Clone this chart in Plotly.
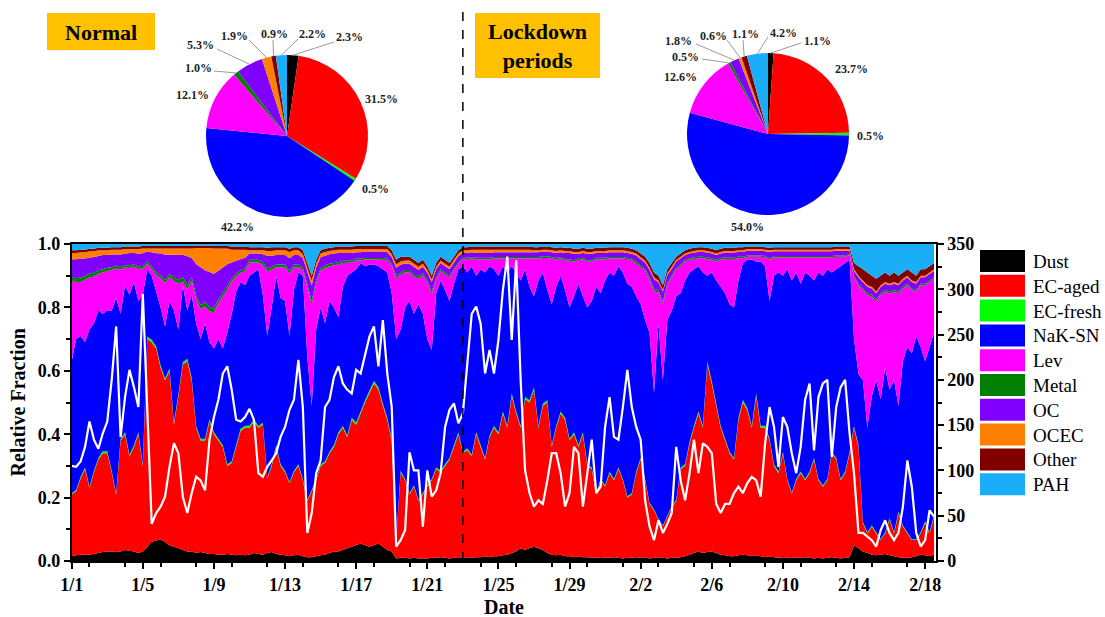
import math
import pandas as pd
import plotly.graph_objects as go

W, H = 1105, 617
SERIF = "Liberation Serif, Times New Roman, serif"

species = ["Dust", "EC-aged", "EC-fresh", "NaK-SN", "Lev", "Metal", "OC", "OCEC", "Other", "PAH"]
colors = ["#000000", "#FF0000", "#00FF00", "#0000FF", "#FF00FF", "#007F00", "#8000FF", "#FF8000", "#800000", "#1AADF8"]

# pie charts: mean mass fractions (%)
pie_normal = [2.3, 31.5, 0.5, 42.2, 12.1, 1.0, 5.3, 1.9, 0.9, 2.2]
pie_lockdown = [1.1, 23.7, 0.5, 54.0, 12.6, 0.5, 1.8, 0.6, 1.1, 4.2]

# time series, 6-hourly from 2020-01-01 00:00
start = "2020-01-01"
lockdown_start = "2020-01-23"
x_end = "2020-02-18 14:40"

dust = [
    0.015, 0.018, 0.02, 0.02, 0.02, 0.022, 0.025, 0.028, 0.03, 0.03, 0.028, 0.03, 0.035, 0.032, 0.03, 0.025, 0.03, 0.045, 0.06, 0.065,
    0.068, 0.06, 0.05, 0.045, 0.04, 0.035, 0.03, 0.03, 0.025, 0.028, 0.025, 0.022, 0.022, 0.02, 0.02, 0.022, 0.02, 0.018, 0.02, 0.018,
    0.02, 0.025, 0.022, 0.02, 0.025, 0.028, 0.022, 0.02, 0.018, 0.015, 0.018, 0.02, 0.015, 0.012, 0.012, 0.015, 0.018, 0.02, 0.025, 0.03,
    0.03, 0.035, 0.04, 0.045, 0.05, 0.055, 0.05, 0.045, 0.05, 0.055, 0.045, 0.035, 0.03, 0.008, 0.01, 0.01, 0.008, 0.01, 0.008, 0.008,
    0.008, 0.01, 0.01, 0.012, 0.01, 0.008, 0.01, 0.012, 0.01, 0.012, 0.01, 0.012, 0.012, 0.015, 0.012, 0.015, 0.015, 0.018, 0.02, 0.025,
    0.03, 0.04, 0.035, 0.04, 0.045, 0.04, 0.035, 0.025, 0.02, 0.018, 0.02, 0.015, 0.015, 0.012, 0.015, 0.012,
    0.012, 0.01, 0.01, 0.012, 0.01, 0.01, 0.012, 0.01, 0.008, 0.01, 0.01, 0.012, 0.01, 0.012, 0.008, 0.01, 0.012, 0.01, 0.008, 0.01,
    0.01, 0.012, 0.015, 0.02, 0.025, 0.03, 0.025, 0.028, 0.03, 0.025, 0.02, 0.018, 0.015, 0.015, 0.018, 0.02, 0.018, 0.015, 0.018, 0.015,
    0.012, 0.015, 0.012, 0.01, 0.012, 0.01, 0.012, 0.01, 0.01, 0.012, 0.01, 0.008, 0.01, 0.008, 0.01, 0.012, 0.01, 0.008, 0.01, 0.012,
    0.05, 0.04, 0.03, 0.025, 0.02, 0.018, 0.02, 0.022, 0.018, 0.015, 0.012, 0.01, 0.01, 0.012, 0.015, 0.02, 0.018, 0.015, 0.02,
]
ec_aged = [
    0.195, 0.202, 0.24, 0.27, 0.21, 0.258, 0.295, 0.312, 0.31, 0.25, 0.182, 0.35, 0.365, 0.298, 0.33, 0.375, 0.27, 0.655, 0.63, 0.605,
    0.542, 0.51, 0.55, 0.385, 0.48, 0.585, 0.60, 0.54, 0.395, 0.352, 0.355, 0.418, 0.378, 0.36, 0.34, 0.278, 0.29, 0.342, 0.39, 0.402,
    0.40, 0.415, 0.398, 0.41, 0.235, 0.272, 0.338, 0.28, 0.262, 0.23, 0.262, 0.28, 0.24, 0.178, 0.208, 0.24, 0.282, 0.29, 0.315, 0.33,
    0.37, 0.385, 0.35, 0.40, 0.38, 0.41, 0.45, 0.485, 0.51, 0.485, 0.445, 0.41, 0.35, 0.058, 0.27, 0.245, 0.202, 0.225, 0.182, 0.202,
    0.227, 0.245, 0.28, 0.268, 0.29, 0.312, 0.35, 0.388, 0.33, 0.338, 0.32, 0.388, 0.348, 0.305, 0.378, 0.405, 0.385, 0.447, 0.40, 0.495,
    0.435, 0.38, 0.475, 0.46, 0.495, 0.38, 0.455, 0.475, 0.34, 0.402, 0.445, 0.43, 0.365, 0.388, 0.345, 0.388,
    0.288, 0.28, 0.20, 0.243, 0.225, 0.267, 0.243, 0.28, 0.247, 0.19, 0.20, 0.265, 0.31, 0.243, 0.172, 0.15, 0.118, 0.10, 0.132, 0.16,
    0.18, 0.278, 0.285, 0.35, 0.395, 0.435, 0.395, 0.592, 0.53, 0.465, 0.40, 0.362, 0.325, 0.305, 0.427, 0.48, 0.457, 0.405, 0.502, 0.405,
    0.408, 0.365, 0.288, 0.267, 0.328, 0.245, 0.20, 0.245, 0.267, 0.243, 0.267, 0.312, 0.245, 0.226, 0.245, 0.328, 0.31, 0.247, 0.267, 0.328,
    0.37, 0.32, 0.09, 0.062, 0.088, 0.069, 0.046, 0.065, 0.112, 0.072, 0.138, 0.098, 0.077, 0.054, 0.051, 0.067, 0.102, 0.072, 0.12,
]
ec_fresh = [
    0.004, 0.004, 0.005, 0.005, 0.005, 0.005, 0.005, 0.006, 0.006, 0.005, 0.004, 0.006, 0.006, 0.005, 0.005, 0.006, 0.005, 0.008, 0.008, 0.007,
    0.007, 0.006, 0.007, 0.006, 0.006, 0.008, 0.008, 0.007, 0.006, 0.006, 0.006, 0.007, 0.006, 0.006, 0.005, 0.005, 0.005, 0.006, 0.007, 0.007,
    0.007, 0.007, 0.006, 0.006, 0.004, 0.005, 0.006, 0.005, 0.005, 0.004, 0.005, 0.005, 0.004, 0.003, 0.004, 0.004, 0.005, 0.005, 0.005, 0.006,
    0.006, 0.006, 0.006, 0.007, 0.007, 0.007, 0.007, 0.008, 0.008, 0.008, 0.007, 0.007, 0.006, 0.002, 0.005, 0.004, 0.004, 0.004, 0.003, 0.004,
    0.004, 0.004, 0.005, 0.005, 0.005, 0.005, 0.006, 0.006, 0.005, 0.006, 0.005, 0.006, 0.006, 0.005, 0.006, 0.006, 0.006, 0.007, 0.006, 0.008,
    0.007, 0.006, 0.008, 0.007, 0.008, 0.006, 0.007, 0.007, 0.005, 0.006, 0.007, 0.007, 0.006, 0.006, 0.005, 0.006,
    0.005, 0.005, 0.004, 0.004, 0.004, 0.005, 0.004, 0.005, 0.004, 0.004, 0.004, 0.005, 0.005, 0.004, 0.003, 0.003, 0.003, 0.002, 0.003, 0.003,
    0.003, 0.005, 0.005, 0.006, 0.007, 0.007, 0.007, 0.009, 0.008, 0.007, 0.006, 0.006, 0.005, 0.005, 0.007, 0.008, 0.007, 0.007, 0.008, 0.007,
    0.007, 0.006, 0.005, 0.005, 0.005, 0.004, 0.004, 0.004, 0.005, 0.004, 0.005, 0.005, 0.004, 0.004, 0.004, 0.005, 0.005, 0.004, 0.005, 0.005,
    0.006, 0.006, 0.004, 0.004, 0.004, 0.004, 0.003, 0.004, 0.005, 0.004, 0.005, 0.004, 0.004, 0.003, 0.003, 0.004, 0.005, 0.004, 0.005,
]
nak_sn = [
    0.416, 0.476, 0.445, 0.395, 0.495, 0.465, 0.465, 0.434, 0.444, 0.505, 0.616, 0.394, 0.464, 0.505, 0.515, 0.414, 0.535, 0.212, 0.202, 0.173,
    0.183, 0.164, 0.213, 0.354, 0.204, 0.242, 0.152, 0.263, 0.324, 0.314, 0.364, 0.243, 0.264, 0.314, 0.305, 0.415, 0.465, 0.484, 0.463, 0.443,
    0.473, 0.463, 0.494, 0.404, 0.446, 0.495, 0.534, 0.525, 0.535, 0.461, 0.57, 0.605, 0.641, 0.452, 0.266, 0.471, 0.495, 0.435, 0.475, 0.434,
    0.364, 0.439, 0.504, 0.458, 0.483, 0.468, 0.423, 0.397, 0.367, 0.382, 0.423, 0.458, 0.459, 0.632, 0.445, 0.541, 0.606, 0.541, 0.617, 0.566,
    0.461, 0.406, 0.55, 0.60, 0.55, 0.495, 0.509, 0.514, 0.585, 0.554, 0.595, 0.494, 0.554, 0.585, 0.534, 0.494, 0.494, 0.458, 0.484, 0.402,
    0.438, 0.459, 0.402, 0.358, 0.287, 0.459, 0.413, 0.348, 0.445, 0.439, 0.428, 0.403, 0.414, 0.429, 0.51, 0.429,
    0.495, 0.525, 0.651, 0.586, 0.646, 0.628, 0.641, 0.635, 0.651, 0.671, 0.651, 0.553, 0.485, 0.501, 0.537, 0.367, 0.617, 0.458, 0.617, 0.617,
    0.642, 0.55, 0.58, 0.534, 0.493, 0.458, 0.483, 0.271, 0.342, 0.388, 0.439, 0.459, 0.465, 0.475, 0.433, 0.432, 0.468, 0.523, 0.417, 0.518,
    0.503, 0.434, 0.595, 0.628, 0.555, 0.661, 0.668, 0.651, 0.593, 0.651, 0.618, 0.56, 0.651, 0.662, 0.661, 0.565, 0.595, 0.671, 0.658, 0.605,
    0.274, 0.224, 0.446, 0.329, 0.408, 0.479, 0.441, 0.519, 0.405, 0.479, 0.335, 0.518, 0.584, 0.586, 0.641, 0.584, 0.505, 0.584, 0.575,
]
lev = [
    0.255, 0.179, 0.17, 0.197, 0.165, 0.147, 0.116, 0.13, 0.125, 0.128, 0.093, 0.139, 0.056, 0.084, 0.049, 0.101, 0.083, 0.018, 0.02, 0.052,
    0.091, 0.136, 0.076, 0.094, 0.144, 0.012, 0.067, 0.044, 0.075, 0.095, 0.053, 0.098, 0.114, 0.114, 0.164, 0.136, 0.102, 0.048, 0.029, 0.044,
    0.042, 0.032, 0.022, 0.094, 0.203, 0.119, 0.027, 0.097, 0.107, 0.196, 0.072, 0.017, 0.018, 0.218, 0.318, 0.147, 0.115, 0.175, 0.11, 0.133,
    0.165, 0.075, 0.041, 0.031, 0.028, 0.008, 0.021, 0.016, 0.016, 0.021, 0.03, 0.038, 0.087, 0.192, 0.173, 0.111, 0.091, 0.116, 0.081, 0.121,
    0.178, 0.177, 0.044, 0.029, 0.049, 0.074, 0.042, 0.017, 0.022, 0.042, 0.024, 0.052, 0.032, 0.042, 0.022, 0.034, 0.054, 0.024, 0.044, 0.024,
    0.044, 0.069, 0.034, 0.089, 0.119, 0.069, 0.046, 0.101, 0.144, 0.087, 0.054, 0.092, 0.147, 0.109, 0.074, 0.117,
    0.144, 0.124, 0.087, 0.107, 0.067, 0.044, 0.054, 0.024, 0.044, 0.077, 0.084, 0.103, 0.116, 0.156, 0.167, 0.321, 0.097, 0.241, 0.111, 0.106,
    0.085, 0.085, 0.06, 0.04, 0.033, 0.025, 0.045, 0.053, 0.04, 0.06, 0.085, 0.108, 0.143, 0.153, 0.07, 0.015, 0.01, 0.01, 0.015, 0.015,
    0.028, 0.13, 0.058, 0.048, 0.058, 0.038, 0.073, 0.048, 0.083, 0.048, 0.058, 0.073, 0.048, 0.058, 0.038, 0.048, 0.04, 0.03, 0.02, 0.015,
    0.195, 0.279, 0.284, 0.419, 0.314, 0.249, 0.329, 0.239, 0.304, 0.279, 0.354, 0.229, 0.195, 0.20, 0.14, 0.195, 0.24, 0.205, 0.17,
]
metal = [
    0.012, 0.013, 0.014, 0.012, 0.012, 0.012, 0.011, 0.010, 0.010, 0.009, 0.009, 0.008, 0.008, 0.008, 0.008, 0.008, 0.008, 0.008, 0.009, 0.009,
    0.01, 0.01, 0.01, 0.012, 0.012, 0.014, 0.014, 0.012, 0.012, 0.012, 0.014, 0.014, 0.012, 0.012, 0.012, 0.01, 0.01, 0.009, 0.008, 0.008,
    0.008, 0.008, 0.008, 0.009, 0.01, 0.009, 0.008, 0.008, 0.008, 0.009, 0.008, 0.008, 0.008, 0.01, 0.012, 0.009, 0.008, 0.008, 0.008, 0.007,
    0.007, 0.007, 0.006, 0.006, 0.006, 0.006, 0.005, 0.005, 0.005, 0.005, 0.006, 0.006, 0.006, 0.008, 0.007, 0.007, 0.007, 0.007, 0.007, 0.007,
    0.007, 0.008, 0.006, 0.006, 0.006, 0.006, 0.005, 0.005, 0.005, 0.005, 0.005, 0.005, 0.005, 0.005, 0.005, 0.005, 0.005, 0.005, 0.005, 0.005,
    0.005, 0.005, 0.005, 0.005, 0.005, 0.005, 0.005, 0.005, 0.005, 0.005, 0.005, 0.005, 0.005, 0.005, 0.005, 0.005,
    0.005, 0.005, 0.005, 0.005, 0.005, 0.005, 0.005, 0.005, 0.005, 0.005, 0.005, 0.006, 0.006, 0.006, 0.007, 0.008, 0.007, 0.008, 0.006, 0.006,
    0.005, 0.005, 0.005, 0.005, 0.005, 0.005, 0.005, 0.005, 0.005, 0.005, 0.005, 0.005, 0.005, 0.005, 0.005, 0.005, 0.004, 0.004, 0.004, 0.004,
    0.004, 0.005, 0.004, 0.004, 0.004, 0.004, 0.004, 0.004, 0.004, 0.004, 0.004, 0.004, 0.004, 0.004, 0.004, 0.004, 0.004, 0.004, 0.004, 0.004,
    0.005, 0.006, 0.006, 0.006, 0.006, 0.006, 0.006, 0.006, 0.006, 0.006, 0.006, 0.006, 0.005, 0.005, 0.005, 0.005, 0.005, 0.005, 0.005,
]
oc = [
    0.055, 0.06, 0.06, 0.055, 0.05, 0.05, 0.045, 0.045, 0.04, 0.04, 0.035, 0.04, 0.035, 0.04, 0.035, 0.04, 0.04, 0.03, 0.045, 0.06,
    0.07, 0.08, 0.06, 0.07, 0.08, 0.07, 0.09, 0.06, 0.10, 0.12, 0.10, 0.11, 0.11, 0.09, 0.08, 0.07, 0.05, 0.04, 0.035, 0.035,
    0.02, 0.02, 0.02, 0.025, 0.04, 0.035, 0.03, 0.03, 0.03, 0.04, 0.03, 0.03, 0.03, 0.04, 0.05, 0.04, 0.035, 0.03, 0.03, 0.03,
    0.03, 0.025, 0.025, 0.025, 0.02, 0.02, 0.02, 0.02, 0.02, 0.02, 0.02, 0.02, 0.02, 0.025, 0.025, 0.02, 0.02, 0.025, 0.02, 0.02,
    0.025, 0.03, 0.025, 0.02, 0.02, 0.02, 0.02, 0.02, 0.015, 0.015, 0.015, 0.015, 0.015, 0.015, 0.015, 0.015, 0.015, 0.015, 0.015, 0.015,
    0.015, 0.015, 0.015, 0.015, 0.015, 0.015, 0.015, 0.015, 0.015, 0.015, 0.015, 0.02, 0.02, 0.02, 0.015, 0.015,
    0.02, 0.02, 0.015, 0.015, 0.015, 0.015, 0.015, 0.015, 0.015, 0.015, 0.015, 0.02, 0.02, 0.02, 0.025, 0.03, 0.025, 0.03, 0.025, 0.02,
    0.02, 0.02, 0.015, 0.015, 0.015, 0.015, 0.015, 0.015, 0.015, 0.015, 0.015, 0.015, 0.015, 0.015, 0.015, 0.015, 0.015, 0.015, 0.015, 0.015,
    0.015, 0.02, 0.015, 0.015, 0.015, 0.015, 0.015, 0.015, 0.015, 0.015, 0.015, 0.015, 0.015, 0.015, 0.015, 0.015, 0.015, 0.015, 0.015, 0.01,
    0.015, 0.02, 0.02, 0.02, 0.02, 0.02, 0.02, 0.02, 0.02, 0.02, 0.02, 0.02, 0.02, 0.02, 0.02, 0.02, 0.02, 0.02, 0.02,
]
ocec = [
    0.02, 0.02, 0.02, 0.02, 0.02, 0.018, 0.018, 0.015, 0.015, 0.015, 0.015, 0.015, 0.015, 0.012, 0.012, 0.015, 0.015, 0.01, 0.012, 0.015,
    0.015, 0.02, 0.02, 0.02, 0.02, 0.02, 0.025, 0.03, 0.05, 0.06, 0.07, 0.075, 0.08, 0.07, 0.06, 0.05, 0.04, 0.035, 0.03, 0.025,
    0.01, 0.01, 0.01, 0.012, 0.015, 0.015, 0.015, 0.015, 0.015, 0.02, 0.015, 0.015, 0.012, 0.012, 0.015, 0.012, 0.012, 0.012, 0.01, 0.01,
    0.01, 0.01, 0.01, 0.01, 0.01, 0.01, 0.008, 0.008, 0.008, 0.008, 0.008, 0.01, 0.01, 0.01, 0.01, 0.01, 0.01, 0.01, 0.01, 0.01,
    0.008, 0.008, 0.008, 0.008, 0.008, 0.008, 0.008, 0.008, 0.008, 0.008, 0.008, 0.01, 0.01, 0.01, 0.01, 0.008, 0.008, 0.008, 0.008, 0.008,
    0.008, 0.008, 0.008, 0.008, 0.006, 0.006, 0.006, 0.006, 0.006, 0.006, 0.006, 0.006, 0.006, 0.006, 0.006, 0.006,
    0.006, 0.006, 0.006, 0.006, 0.006, 0.006, 0.006, 0.006, 0.006, 0.006, 0.006, 0.006, 0.006, 0.006, 0.006, 0.006, 0.006, 0.006, 0.006, 0.006,
    0.005, 0.005, 0.005, 0.005, 0.005, 0.005, 0.005, 0.005, 0.005, 0.005, 0.005, 0.005, 0.005, 0.005, 0.005, 0.005, 0.005, 0.005, 0.005, 0.005,
    0.005, 0.005, 0.005, 0.005, 0.005, 0.005, 0.005, 0.005, 0.005, 0.005, 0.005, 0.005, 0.005, 0.005, 0.005, 0.005, 0.005, 0.005, 0.005, 0.005,
    0.005, 0.005, 0.005, 0.005, 0.005, 0.005, 0.005, 0.005, 0.005, 0.005, 0.005, 0.005, 0.005, 0.005, 0.005, 0.005, 0.005, 0.005, 0.005,
]
other = [
    0.008, 0.008, 0.008, 0.008, 0.008, 0.008, 0.008, 0.008, 0.008, 0.008, 0.008, 0.008, 0.008, 0.008, 0.008, 0.008, 0.008, 0.008, 0.008, 0.008,
    0.008, 0.008, 0.008, 0.008, 0.008, 0.008, 0.008, 0.008, 0.008, 0.008, 0.008, 0.008, 0.008, 0.008, 0.008, 0.008, 0.01, 0.01, 0.01, 0.01,
    0.01, 0.01, 0.01, 0.01, 0.01, 0.012, 0.01, 0.01, 0.01, 0.01, 0.01, 0.01, 0.012, 0.015, 0.015, 0.012, 0.01, 0.01, 0.01, 0.01,
    0.01, 0.01, 0.01, 0.01, 0.01, 0.01, 0.01, 0.01, 0.01, 0.01, 0.01, 0.01, 0.012, 0.015, 0.015, 0.012, 0.012, 0.012, 0.012, 0.012,
    0.012, 0.012, 0.012, 0.012, 0.012, 0.012, 0.01, 0.01, 0.01, 0.01, 0.01, 0.01, 0.01, 0.01, 0.01, 0.01, 0.01, 0.01, 0.01, 0.01,
    0.01, 0.01, 0.01, 0.01, 0.01, 0.01, 0.01, 0.01, 0.01, 0.01, 0.01, 0.01, 0.01, 0.01, 0.01, 0.01,
    0.01, 0.01, 0.01, 0.01, 0.01, 0.01, 0.01, 0.01, 0.01, 0.01, 0.01, 0.01, 0.012, 0.012, 0.015, 0.015, 0.015, 0.015, 0.012, 0.012,
    0.01, 0.01, 0.01, 0.01, 0.01, 0.01, 0.01, 0.01, 0.01, 0.01, 0.01, 0.01, 0.01, 0.01, 0.01, 0.01, 0.008, 0.008, 0.008, 0.008,
    0.008, 0.008, 0.008, 0.008, 0.008, 0.008, 0.008, 0.008, 0.008, 0.008, 0.008, 0.008, 0.008, 0.008, 0.008, 0.008, 0.008, 0.008, 0.008, 0.008,
    0.02, 0.03, 0.035, 0.04, 0.035, 0.04, 0.03, 0.03, 0.025, 0.03, 0.025, 0.02, 0.02, 0.025, 0.02, 0.02, 0.02, 0.02, 0.02,
]
pah = [
    0.02, 0.02, 0.018, 0.018, 0.015, 0.015, 0.012, 0.012, 0.012, 0.01, 0.01, 0.01, 0.008, 0.008, 0.008, 0.008, 0.006, 0.006, 0.006, 0.006,
    0.006, 0.006, 0.006, 0.006, 0.006, 0.006, 0.006, 0.006, 0.005, 0.005, 0.005, 0.005, 0.006, 0.006, 0.006, 0.006, 0.008, 0.008, 0.008, 0.008,
    0.01, 0.01, 0.01, 0.01, 0.012, 0.01, 0.01, 0.01, 0.01, 0.015, 0.01, 0.01, 0.02, 0.06, 0.1, 0.05, 0.02, 0.015, 0.012, 0.01,
    0.008, 0.008, 0.008, 0.008, 0.006, 0.006, 0.006, 0.006, 0.006, 0.006, 0.006, 0.006, 0.02, 0.05, 0.04, 0.04, 0.04, 0.05, 0.06, 0.05,
    0.07, 0.1, 0.06, 0.04, 0.05, 0.06, 0.04, 0.02, 0.01, 0.01, 0.008, 0.008, 0.008, 0.008, 0.008, 0.008, 0.008, 0.008, 0.008, 0.008,
    0.008, 0.008, 0.008, 0.008, 0.01, 0.01, 0.008, 0.008, 0.01, 0.012, 0.01, 0.012, 0.012, 0.015, 0.015, 0.012,
    0.015, 0.015, 0.012, 0.012, 0.012, 0.01, 0.01, 0.01, 0.01, 0.012, 0.015, 0.02, 0.03, 0.04, 0.06, 0.09, 0.1, 0.13, 0.08, 0.06,
    0.04, 0.03, 0.02, 0.015, 0.012, 0.01, 0.01, 0.012, 0.015, 0.02, 0.015, 0.012, 0.012, 0.012, 0.01, 0.01, 0.008, 0.008, 0.008, 0.008,
    0.01, 0.012, 0.01, 0.01, 0.01, 0.01, 0.01, 0.01, 0.01, 0.01, 0.01, 0.01, 0.01, 0.01, 0.01, 0.01, 0.008, 0.008, 0.008, 0.008,
    0.06, 0.07, 0.08, 0.09, 0.1, 0.11, 0.1, 0.09, 0.1, 0.09, 0.1, 0.09, 0.08, 0.09, 0.1, 0.08, 0.08, 0.07, 0.06,
]
# concentration (right axis), white line
pm = [
    105, 104, 110, 126, 154, 134, 124, 141, 154, 200, 259, 137, 181, 211, 192, 170, 295, 170, 41, 53,
    60, 71, 104, 130, 119, 71, 53, 75, 93, 89, 78, 134, 159, 178, 207, 215, 189, 156, 154, 159,
    168, 156, 97, 93, 104, 111, 119, 137, 148, 167, 178, 222, 170, 31, 53, 97, 111, 170, 178, 203,
    215, 196, 189, 185, 211, 207, 229, 248, 259, 215, 266, 207, 170, 16, 23, 34, 120, 100, 100, 38,
    100, 71, 78, 97, 148, 167, 174, 152, 163, 222, 273, 281, 262, 207, 233, 207, 244, 299, 336, 244,
    332, 200, 100, 75, 60, 67, 63, 89, 119, 119, 97, 60, 75, 126, 119, 60,
    97, 134, 75, 82, 148, 181, 137, 134, 170, 211, 170, 148, 134, 67, 38, 23, 45, 31, 41, 53,
    126, 89, 67, 97, 134, 97, 130, 126, 119, 63, 53, 63, 63, 75, 82, 75, 86, 93, 89, 71,
    130, 170, 148, 104, 159, 148, 119, 97, 126, 178, 196, 122, 181, 196, 200, 115, 170, 192, 200, 141,
    97, 31, 31, 27, 23, 16, 34, 45, 31, 23, 31, 60, 111, 82, 31, 16, 23, 56, 49,
]

series = [dust, ec_aged, ec_fresh, nak_sn, lev, metal, oc, ocec, other, pah]
lengths = {len(s) for s in series} | {len(pm)}
if len(lengths) != 1:
    raise ValueError("length mismatch: %s" % [len(s) for s in series + [pm]])

times = pd.date_range(start, periods=len(dust), freq="6h")


def px(x):
    return x / W


def py(y):
    return 1 - y / H


# ---- main plot geometry (pixels) ----
PL, PR, PT, PB = 71.7, 936, 244, 561

fig = go.Figure()
for name, vals, col in zip(species, series, colors):
    fig.add_trace(go.Scatter(
        x=times, y=vals, name=name, stackgroup="frac", groupnorm="fraction",
        mode="none", fillcolor=col, line=dict(width=0), showlegend=False,
        xaxis="x", yaxis="y", hoverinfo="skip"))

fig.add_trace(go.Scatter(x=times, y=pm, mode="lines", line=dict(color="white", width=2.2),
                         xaxis="x", yaxis="y2", showlegend=False, name="PM"))

# ---- pies ----
pies = [
    dict(vals=pie_normal, cx=287, cy=136, r=81,
         labels=[(349, 37), (381, 99), (375, 189), (237, 227), (192, 95),
                 (198, 68), (200, 45), (234, 36), (274, 34), (312, 34)],
         ends=[(334, 42), None, None, None, None,
               (214, 71), (217, 49), (249, 40), (273, 40), (298, 39)]),
    dict(vals=pie_lockdown, cx=768, cy=134, r=81,
         labels=[(817, 41), (851, 69), (870, 136), (747, 227), (680, 77),
                 (685, 57), (678, 41), (713, 36), (745, 34), (783, 33)],
         ends=[(801, 43), None, None, None, None,
               (702, 59), (696, 44), (727, 40), (743, 40), (768, 37)]),
]

shapes = []
annotations = []


def label(x, y, text, size, xanchor="center", angle=0):
    annotations.append(dict(x=px(x), y=py(y), xref="paper", yref="paper", showarrow=False,
                            text=text, textangle=angle, xanchor=xanchor, yanchor="middle",
                            font=dict(family=SERIF, size=size, color="black")))


for p in pies:
    cx, cy, r = p["cx"], p["cy"], p["r"]
    fig.add_trace(go.Pie(
        values=p["vals"], labels=species, sort=False, direction="clockwise", rotation=0,
        marker=dict(colors=colors, line=dict(width=0)), textinfo="none", hoverinfo="label+percent",
        showlegend=False,
        domain=dict(x=[px(cx - r), px(cx + r)], y=[py(cy + r), py(cy - r)])))
    tot = sum(p["vals"])
    cum = 0
    for k, v in enumerate(p["vals"]):
        mid = (cum + v / 2) / tot * 2 * math.pi
        cum += v
        lx, ly = p["labels"][k]
        annotations.append(dict(x=px(lx), y=py(ly), xref="paper", yref="paper", showarrow=False,
                                text="<b>%.1f%%</b>" % v, font=dict(family=SERIF, size=12, color="#222"),
                                xanchor="center", yanchor="middle"))
        if p["ends"][k] is not None:
            sx, sy = cx + r * math.sin(mid), cy - r * math.cos(mid)
            ex, ey = p["ends"][k]
            shapes.append(dict(type="line", xref="paper", yref="paper",
                               x0=px(sx), y0=py(sy), x1=px(ex), y1=py(ey),
                               line=dict(color="#9a9a9a", width=1)))

# ---- period boxes ----
shapes.append(dict(type="rect", xref="paper", yref="paper", x0=px(47), x1=px(155), y0=py(50), y1=py(13),
                   fillcolor="#FFC000", line=dict(width=0), layer="below"))
label(101, 32, "<b>Normal</b>", 22)
shapes.append(dict(type="rect", xref="paper", yref="paper", x0=px(475), x1=px(600), y0=py(78), y1=py(13),
                   fillcolor="#FFC000", line=dict(width=0), layer="below"))
label(537.5, 46, "<b>Lockdown</b><br><b>periods</b>", 22)

# ---- lockdown divider ----
shapes.append(dict(type="line", xref="x", yref="paper", x0=lockdown_start, x1=lockdown_start,
                   y0=py(PB), y1=py(10), line=dict(color="black", width=1.5, dash="dash"), layer="above"))

# ---- legend ----
for i, (name, col) in enumerate(zip(species, colors)):
    top = 250 + 24.8 * i
    shapes.append(dict(type="rect", xref="paper", yref="paper", x0=px(980), x1=px(1025),
                       y0=py(top + 22), y1=py(top), fillcolor=col, line=dict(width=0)))
    label(1031, top + 11.5, name, 19, xanchor="left")

# ---- axis titles ----
label(18, (PT + PB) / 2, "<b>Relative Fraction</b>", 20, angle=-90)
label((PL + PR) / 2, 607, "<b>Date</b>", 20)

tickfont = dict(family=SERIF, size=18, color="black", weight="bold")
DAY = 86400000

fig.update_layout(
    width=W, height=H, autosize=False,
    margin=dict(l=0, r=0, t=0, b=0, pad=0, autoexpand=False),
    paper_bgcolor="white", plot_bgcolor="white",
    showlegend=False,
    xaxis=dict(domain=[px(PL), px(PR)], type="date", range=[start, x_end],
               tick0=start, dtick=4 * DAY, tickformat="%-m/%-d",
               ticks="outside", ticklen=6, tickwidth=1.5, tickcolor="black",
               ticklabelstandoff=1,
               minor=dict(dtick=2 * DAY, ticks="outside", ticklen=4, tickwidth=1.5, tickcolor="black"),
               showline=True, linecolor="black", linewidth=1.5, mirror=True,
               showgrid=False, zeroline=False, tickfont=tickfont, anchor="y", automargin=False),
    yaxis=dict(domain=[py(PB), py(PT)], range=[0, 1], dtick=0.2, tickformat=".1f",
               ticks="outside", ticklen=6, tickwidth=1.5, tickcolor="black",
               minor=dict(dtick=0.1, ticks="outside", ticklen=4, tickwidth=1.5, tickcolor="black"),
               showline=True, linecolor="black", linewidth=1.5,
               showgrid=False, zeroline=False, tickfont=tickfont, anchor="x", automargin=False),
    yaxis2=dict(overlaying="y", side="right", anchor="x", range=[0, 350], dtick=50,
                ticks="outside", ticklen=6, tickwidth=1.5, tickcolor="black",
                minor=dict(dtick=25, ticks="outside", ticklen=4, tickwidth=1.5, tickcolor="black"),
                showline=True, linecolor="black", linewidth=1.5,
                showgrid=False, zeroline=False, tickfont=tickfont, automargin=False),
    shapes=shapes,
    annotations=annotations,
)

fig.write_html("out.html")
